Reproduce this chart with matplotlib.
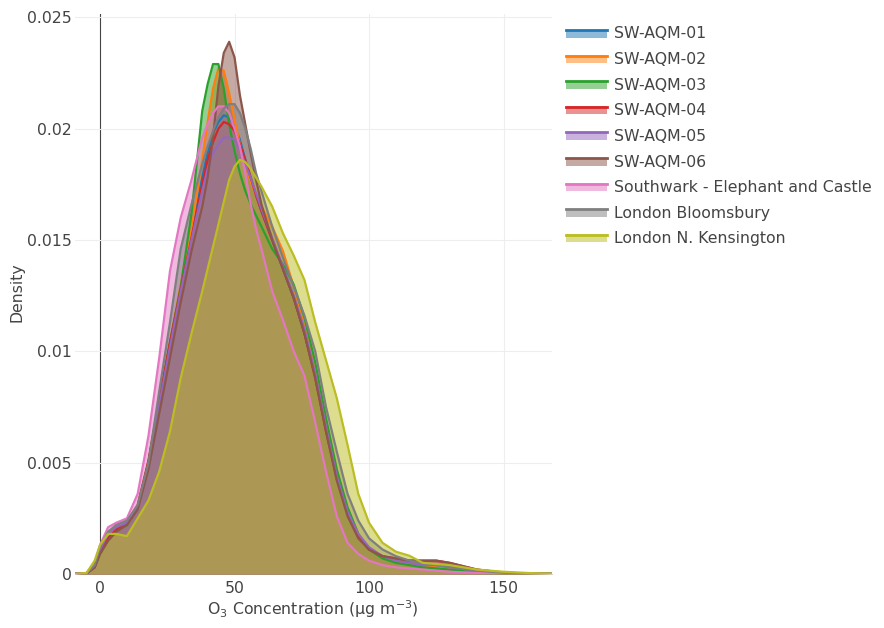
import matplotlib
matplotlib.use("Agg")
import matplotlib.pyplot as plt
from matplotlib.patches import Rectangle
from matplotlib.lines import Line2D

# O3 concentration grid (ug m-3) at which the density curves were read
conc = [-10, -5, -2, 0, 3, 6, 10, 14, 18, 22, 26, 30, 34, 38, 40, 42, 44, 46, 48, 50, 52, 54, 56, 58,
        60, 64, 68, 72, 76, 80, 84, 88, 92, 96, 100, 105, 110, 115, 120, 125, 130, 140, 150, 160, 170]

sw01 = [0, 0.00003, 0.0003, 0.0010, 0.0016, 0.0020, 0.0022, 0.0030, 0.0050, 0.0077, 0.0103, 0.0128, 0.0152,
        0.0178, 0.0189, 0.0198, 0.0203, 0.0206, 0.0205, 0.0201, 0.0195, 0.0186, 0.0178, 0.0170,
        0.0163, 0.0150, 0.0137, 0.0124, 0.0108, 0.0089, 0.0065, 0.0044, 0.0028, 0.0017, 0.0011, 0.0008,
        0.0006, 0.0005, 0.0004, 0.0004, 0.0003, 0.00015, 0.00005, 0.00001, 0]
sw02 = [0, 0.00003, 0.0003, 0.0009, 0.0015, 0.0019, 0.0022, 0.0030, 0.0050, 0.0077, 0.0104, 0.0130, 0.0155,
        0.0186, 0.0203, 0.0218, 0.0227, 0.0226, 0.0216, 0.0204, 0.0193, 0.0184, 0.0176, 0.0170,
        0.0165, 0.0156, 0.0145, 0.0129, 0.0111, 0.0091, 0.0068, 0.0046, 0.0029, 0.0018, 0.0011, 0.0008,
        0.0006, 0.0005, 0.0004, 0.0003, 0.00025, 0.0001, 0.00004, 0.00001, 0]
sw03 = [0, 0.00003, 0.0003, 0.0009, 0.0015, 0.0019, 0.0022, 0.0030, 0.0050, 0.0078, 0.0104, 0.0129, 0.0162,
        0.0208, 0.0220, 0.0229, 0.0229, 0.0218, 0.0202, 0.0190, 0.0180, 0.0172, 0.0166, 0.0161,
        0.0156, 0.0146, 0.0139, 0.0130, 0.0115, 0.0095, 0.0070, 0.0047, 0.0030, 0.0018, 0.0011, 0.0007,
        0.0005, 0.0004, 0.0003, 0.00025, 0.0002, 0.0001, 0.00004, 0.00001, 0]
sw04 = [0, 0.00003, 0.0003, 0.0010, 0.0016, 0.0020, 0.0023, 0.0031, 0.0051, 0.0078, 0.0104, 0.0128, 0.0151,
        0.0175, 0.0186, 0.0194, 0.0200, 0.0203, 0.0202, 0.0199, 0.0193, 0.0186, 0.0178, 0.0170,
        0.0163, 0.0150, 0.0137, 0.0124, 0.0108, 0.0088, 0.0064, 0.0043, 0.0027, 0.0017, 0.0011, 0.0008,
        0.0007, 0.0006, 0.0006, 0.0006, 0.0005, 0.0002, 0.00006, 0.00002, 0]
sw05 = [0, 0.00003, 0.0004, 0.0011, 0.0018, 0.0021, 0.0023, 0.0030, 0.0049, 0.0076, 0.0102, 0.0127, 0.0150,
        0.0172, 0.0182, 0.0189, 0.0193, 0.0196, 0.0196, 0.0195, 0.0191, 0.0184, 0.0178, 0.0171,
        0.0164, 0.0151, 0.0138, 0.0125, 0.0110, 0.0090, 0.0066, 0.0044, 0.0028, 0.0018, 0.0012, 0.0008,
        0.0006, 0.0005, 0.0004, 0.0004, 0.0003, 0.00015, 0.00005, 0.00001, 0]
sw06 = [0, 0.00003, 0.0003, 0.0009, 0.0015, 0.0019, 0.0022, 0.0029, 0.0047, 0.0072, 0.0097, 0.0122, 0.0145,
        0.0165, 0.0178, 0.0196, 0.0219, 0.0234, 0.0239, 0.0232, 0.0215, 0.0202, 0.0189, 0.0177,
        0.0166, 0.0150, 0.0137, 0.0124, 0.0108, 0.0088, 0.0064, 0.0042, 0.0026, 0.0016, 0.0011, 0.0008,
        0.0007, 0.0006, 0.0006, 0.0006, 0.0005, 0.0002, 0.00006, 0.00002, 0]
southwark = [0, 0.00004, 0.0005, 0.0013, 0.0021, 0.0023, 0.0025, 0.0036, 0.0062, 0.0097, 0.0136, 0.0160, 0.0177,
             0.0196, 0.0202, 0.0207, 0.0210, 0.0210, 0.0207, 0.0200, 0.0192, 0.0180, 0.0166, 0.0155,
             0.0146, 0.0127, 0.0114, 0.0100, 0.0089, 0.0068, 0.0046, 0.0026, 0.0014, 0.0009, 0.0006, 0.0004,
             0.0003, 0.00025, 0.0002, 0.00015, 0.0001, 0.00005, 0.00002, 0, 0]
bloomsbury = [0, 0.00003, 0.0004, 0.0012, 0.0019, 0.0022, 0.0024, 0.0031, 0.0050, 0.0082, 0.0113, 0.0146, 0.0166,
              0.0184, 0.0192, 0.0199, 0.0205, 0.0209, 0.0211, 0.0211, 0.0207, 0.0200, 0.0191, 0.0180,
              0.0172, 0.0156, 0.0142, 0.0129, 0.0116, 0.0100, 0.0075, 0.0055, 0.0036, 0.0024, 0.0016, 0.0011,
              0.0008, 0.0006, 0.0005, 0.0004, 0.0003, 0.00015, 0.00006, 0.00002, 0]
kensington = [0, 0.00005, 0.0006, 0.0013, 0.0018, 0.0018, 0.0017, 0.0025, 0.0033, 0.0046, 0.0064, 0.0088, 0.0108,
              0.0127, 0.0137, 0.0147, 0.0157, 0.0167, 0.0177, 0.0183, 0.0186, 0.0185, 0.0182, 0.0178,
              0.0174, 0.0165, 0.0153, 0.0143, 0.0132, 0.0113, 0.0096, 0.0079, 0.0058, 0.0036, 0.0023, 0.0014,
              0.0010, 0.00082, 0.0005, 0.00045, 0.0004, 0.0002, 0.0001, 0.00004, 0.00001]

names = ["SW-AQM-01", "SW-AQM-02", "SW-AQM-03", "SW-AQM-04", "SW-AQM-05", "SW-AQM-06",
         "Southwark - Elephant and Castle", "London Bloomsbury", "London N. Kensington"]
series = [sw01, sw02, sw03, sw04, sw05, sw06, southwark, bloomsbury, kensington]
colors = ["#1f77b4", "#ff7f0e", "#2ca02c", "#d62728", "#9467bd", "#8c564b", "#e377c2", "#7f7f7f", "#bcbd22"]

yticks = [0, 0.005, 0.01, 0.015, 0.02, 0.025]
ytick_labels = ["0", "0.005", "0.01", "0.015", "0.02", "0.025"]
xticks = [0, 50, 100, 150]

W, H = 884, 628
txt = "#444444"
fs = 11.3

fig = plt.figure(figsize=(W / 100, H / 100), dpi=100)
# plot area in pixels: x 75..552, y 13.5..574
ax = fig.add_axes([75 / W, (H - 574) / H, (552 - 75) / W, (574 - 13.5) / H])

for y, c in zip(series, colors):
    ax.fill_between(conc, y, 0, color=c, alpha=0.5, lw=0)
    ax.plot(conc, y, color=c, lw=1.6, solid_joinstyle="round")

ax.set_xlim(-9.3, 168)
ax.set_ylim(0, (574 - 13.5) / 22268)
ax.set_xticks(xticks)
ax.set_yticks(yticks)
ax.set_yticklabels(ytick_labels)
ax.tick_params(length=0, labelsize=fs, labelcolor=txt)
ax.tick_params(axis="y", pad=2.5)
ax.tick_params(axis="x", pad=5)
ax.grid(True, color="#eeeeee", lw=0.8)
ax.set_axisbelow(True)
for gl, t in zip(ax.get_xgridlines(), xticks):
    if t == 0:
        gl.set_visible(False)
ax.axvline(0, color="#444444", lw=0.8, zorder=0.5)
for s in ax.spines.values():
    s.set_visible(False)

fig.text(17 / W, 1 - 292 / H, "Density", rotation=90, ha="center", va="center",
         fontsize=fs, color=txt)
fig.text(313 / W, 1 - 609 / H, r"O$_3$ Concentration (μg m$^{-3}$)", ha="center", va="center",
         fontsize=fs, color=txt)

# legend drawn in figure pixels, plotly style
row0, step = 34, 25.6
for i, (n, c) in enumerate(zip(names, colors)):
    yc = row0 + i * step
    fig.add_artist(Rectangle((566 / W, 1 - (yc + 3.5) / H), 41 / W, 8 / H,
                             transform=fig.transFigure, facecolor=c, alpha=0.5, lw=0))
    fig.add_artist(Line2D([566 / W, 607 / W], [1 - (yc - 4) / H] * 2,
                          transform=fig.transFigure, color=c, lw=2))
    fig.text(614 / W, 1 - yc / H, n, ha="left", va="center", fontsize=fs, color=txt)

fig.savefig("out.png", dpi=100)
